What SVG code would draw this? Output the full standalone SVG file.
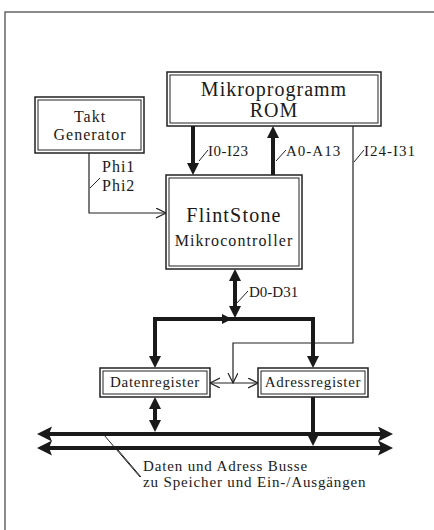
<svg xmlns="http://www.w3.org/2000/svg" width="434" height="530" viewBox="0 0 434 530">
<style>
text{font-family:"Liberation Serif","Times New Roman",serif;fill:#1a1a1a}
.box rect{fill:#fff;stroke:#222}
.box .o{stroke-width:1.5}
.box .i{stroke-width:1}
.thick{stroke:#1a1a1a;stroke-width:4;fill:none}
.bus{stroke:#1a1a1a;stroke-width:4;fill:none}
.thin{stroke:#222;stroke-width:1.2;fill:none}
.tick{stroke:#222;stroke-width:1}
.c{text-anchor:middle}
</style>
<defs>
<marker id="ah" markerUnits="userSpaceOnUse" markerWidth="14" markerHeight="12" refX="2" refY="6" orient="auto-start-reverse"><path d="M0,0 L12,6 L0,12 z" fill="#1a1a1a"/></marker>
<marker id="bh" markerUnits="userSpaceOnUse" markerWidth="16" markerHeight="16" refX="3" refY="7.5" orient="auto-start-reverse"><path d="M0,0 L15,7.5 L0,15 L3,7.5 z" fill="#1a1a1a"/></marker>
<marker id="oa" markerUnits="userSpaceOnUse" markerWidth="12" markerHeight="12" refX="10" refY="5" orient="auto-start-reverse"><path d="M0,0 L10,5 L0,10" fill="none" stroke="#222" stroke-width="1.2"/></marker>
</defs>
<rect width="434" height="530" fill="#fff"/>
<path d="M5,530 V12 H434" fill="none" stroke="#666" stroke-width="1.5"/>

<g id="connectors">
<line class="thick" x1="193" y1="126" x2="193" y2="165" marker-end="url(#ah)"/>
<line class="thick" x1="273" y1="175" x2="273" y2="136" marker-end="url(#ah)"/>
<polyline class="thin" points="353,126 353,343 233,343 233,383" marker-end="url(#oa)"/>
<polyline class="thin" points="89,153 89,213 166,213" marker-end="url(#oa)"/>
<line class="thick" x1="235" y1="279" x2="235" y2="308" marker-start="url(#ah)" marker-end="url(#ah)"/>
<polyline class="thick" points="155,358 155,319 313,319 313,358" marker-start="url(#ah)" marker-end="url(#ah)"/>
<polygon points="222,314 232,319 222,324" fill="#1a1a1a"/>
<line class="thin" x1="210" y1="383" x2="258" y2="383" marker-start="url(#oa)" marker-end="url(#oa)"/>
<line class="thick" x1="155" y1="407" x2="155" y2="422" marker-start="url(#ah)" marker-end="url(#ah)"/>
<line class="thick" x1="313" y1="397" x2="313" y2="436" marker-end="url(#ah)"/>
<line class="bus" x1="49" y1="434" x2="381" y2="434" marker-start="url(#bh)" marker-end="url(#bh)"/>
<line class="bus" x1="49" y1="448" x2="381" y2="448" marker-start="url(#bh)" marker-end="url(#bh)"/>
<line class="tick" x1="199" y1="161" x2="208" y2="150"/>
<line class="tick" x1="276" y1="161" x2="286" y2="150"/>
<line class="tick" x1="354" y1="162" x2="364" y2="150"/>
<line class="tick" x1="90" y1="188" x2="100" y2="178"/>
<line class="tick" x1="236" y1="304" x2="248" y2="291"/>
<line class="tick" x1="104" y1="435" x2="140" y2="477"/>
<line class="tick" x1="118" y1="450" x2="141" y2="477"/>
<text x="208" y="156" font-size="15" letter-spacing="0.5">I0-I23</text>
<text x="286" y="156" font-size="15" letter-spacing="1">A0-A13</text>
<text x="364" y="156" font-size="15" letter-spacing="1">I24-I31</text>
<text x="102" y="172" font-size="16" letter-spacing="1">Phi1</text>
<text x="102" y="191" font-size="16" letter-spacing="1">Phi2</text>
<text x="249" y="297" font-size="15">D0-D31</text>
<text x="143" y="471" font-size="15" letter-spacing="0.85">Daten und Adress Busse</text>
<text x="143" y="487" font-size="15" letter-spacing="0.85">zu Speicher und Ein-/Ausgängen</text>
</g>

<g id="rom" class="box">
<rect class="o" x="167" y="72" width="214" height="54"/>
<rect class="i" x="170" y="75" width="208" height="48"/>
<text class="c" x="274" y="96" font-size="20" letter-spacing="1">Mikroprogramm</text>
<text class="c" x="274" y="117" font-size="20" letter-spacing="1">ROM</text>
</g>

<g id="takt" class="box">
<rect class="o" x="35" y="97" width="109" height="56"/>
<rect class="i" x="38" y="100" width="103" height="50"/>
<text class="c" x="90" y="122" font-size="16" letter-spacing="1">Takt</text>
<text class="c" x="90" y="140" font-size="16" letter-spacing="1">Generator</text>
</g>

<g id="flintstone" class="box">
<rect class="o" x="166" y="175" width="136" height="94"/>
<rect class="i" x="169" y="178" width="130" height="88"/>
<text class="c" x="234" y="222" font-size="20" letter-spacing="1.2">FlintStone</text>
<text class="c" x="234" y="246" font-size="16" letter-spacing="1.1">Mikrocontroller</text>
</g>

<g id="datenregister" class="box">
<rect class="o" x="100" y="368" width="110" height="29"/>
<rect class="i" x="103" y="371" width="104" height="23"/>
<text class="c" x="155" y="387" font-size="15" letter-spacing="0.7">Datenregister</text>
</g>

<g id="adressregister" class="box">
<rect class="o" x="258" y="368" width="110" height="29"/>
<rect class="i" x="261" y="371" width="104" height="23"/>
<text class="c" x="313" y="387" font-size="15" letter-spacing="0.7">Adressregister</text>
</g>
</svg>
